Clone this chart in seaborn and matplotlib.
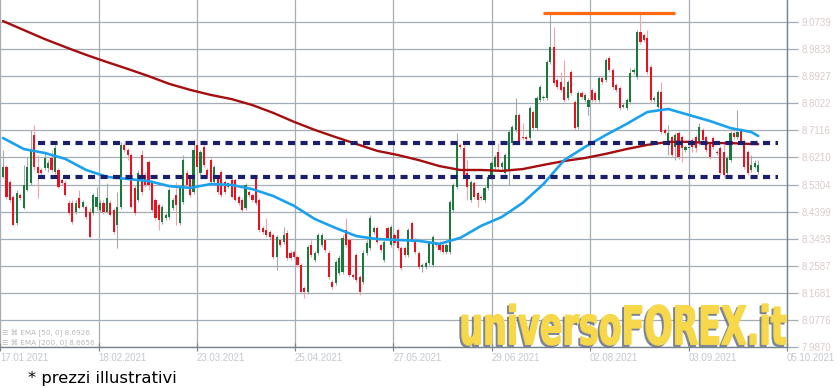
import numpy as np
import pandas as pd
import seaborn as sns
import matplotlib
matplotlib.use("Agg")
import matplotlib.pyplot as plt
from matplotlib.textpath import TextPath
from matplotlib.font_manager import FontProperties
from matplotlib.patches import PathPatch
from matplotlib.transforms import Affine2D, IdentityTransform

# ---------------- data ----------------
opens = [8.556, 8.589, 8.539, 8.489, 8.402, 8.495, 8.452, 8.512, 8.535, 8.696,
         8.589, 8.579, 8.586, 8.586, 8.619, 8.572, 8.579, 8.546, 8.535, 8.469,
         8.469, 8.438, 8.485, 8.455, 8.455, 8.438, 8.435, 8.455, 8.445, 8.469,
         8.438, 8.469, 8.445, 8.395, 8.455, 8.663, 8.646, 8.629, 8.519, 8.479,
         8.629, 8.562, 8.606, 8.535, 8.479,
         8.462, 8.405, 8.418, 8.422, 8.452,
         8.495, 8.402, 8.472, 8.569, 8.552, 8.505, 8.663, 8.569, 8.656, 8.579,
         8.612, 8.539, 8.556, 8.572, 8.539, 8.522, 8.546, 8.546, 8.489, 8.479,
         8.452, 8.505, 8.495, 8.552, 8.479, 8.385, 8.378, 8.372, 8.362, 8.288,
         8.345, 8.338, 8.368, 8.301, 8.305, 8.288, 8.261, 8.184, 8.171,
         8.328, 8.278, 8.301, 8.328, 8.345, 8.301, 8.205, 8.201, 8.235, 8.238, 8.378,
         8.345, 8.228, 8.295, 8.221, 8.205, 8.301, 8.318, 8.372, 8.385, 8.328,
         8.278, 8.385, 8.328, 8.362, 8.378, 8.318, 8.318, 8.295, 8.402, 8.345,
         8.301, 8.255, 8.255, 8.268, 8.261, 8.335, 8.335, 8.328, 8.305, 8.305,
         8.445, 8.522, 8.663, 8.653,
         8.569, 8.479, 8.535, 8.502, 8.489, 8.479,
         8.519, 8.556, 8.589, 8.639, 8.589, 8.569, 8.579, 8.669, 8.713, 8.763,
         8.689, 8.689, 8.686, 8.773, 8.719, 8.813, 8.820, 8.820, 8.940, 8.990,
         8.880, 8.873, 8.857, 8.820, 8.907, 8.806, 8.723, 8.837, 8.813, 8.790,
         8.847, 8.837, 8.813, 8.887, 8.880, 8.954, 8.913,
         8.863, 8.853, 8.790, 8.786, 8.806, 8.907, 8.890, 9.041, 9.030, 9.020, 8.923, 8.813, 8.790,
         8.840, 8.713, 8.673, 8.689, 8.656, 8.703, 8.689, 8.646, 8.653, 8.679,
         8.689, 8.669, 8.713, 8.689, 8.669, 8.686, 8.639, 8.653, 8.639, 8.569,
         8.612, 8.703, 8.689, 8.713, 8.673, 8.639, 8.579, 8.589, 8.572]

highs = [8.646, 8.596, 8.546, 8.495, 8.512, 8.502, 8.596, 8.622, 8.713, 8.729,
         8.629, 8.586, 8.639, 8.612, 8.646, 8.663, 8.586, 8.552, 8.546, 8.479,
         8.479, 8.479, 8.512, 8.479, 8.462, 8.452, 8.502, 8.522, 8.479, 8.479,
         8.535, 8.479, 8.452, 8.505, 8.673, 8.669, 8.653, 8.636, 8.529, 8.579,
         8.646, 8.572, 8.612, 8.546, 8.485,
         8.469, 8.462, 8.435, 8.519, 8.485,
         8.539, 8.529, 8.629, 8.579, 8.562, 8.679, 8.679, 8.646, 8.663, 8.586,
         8.619, 8.596, 8.562, 8.579, 8.546, 8.539, 8.552, 8.552, 8.495, 8.485,
         8.535, 8.512, 8.502, 8.562, 8.485, 8.392, 8.418, 8.378, 8.368, 8.362,
         8.352, 8.388, 8.378, 8.311, 8.311, 8.295, 8.268, 8.191, 8.328,
         8.345, 8.308, 8.368, 8.368, 8.352, 8.311, 8.211, 8.278, 8.295, 8.362, 8.418,
         8.352, 8.235, 8.301, 8.228, 8.311, 8.345, 8.429, 8.392, 8.392, 8.335,
         8.345, 8.392, 8.395, 8.368, 8.385, 8.325, 8.325, 8.385, 8.408, 8.352,
         8.308, 8.268, 8.275, 8.342, 8.362, 8.342, 8.342, 8.335, 8.335, 8.479,
         8.535, 8.703, 8.669, 8.663,
         8.612, 8.546, 8.542, 8.509, 8.495, 8.525,
         8.562, 8.609, 8.629, 8.669, 8.609, 8.636, 8.713, 8.729, 8.820, 8.770,
         8.736, 8.696, 8.793, 8.780, 8.826, 8.863, 8.830, 8.947, 9.104, 9.057,
         8.887, 8.907, 8.947, 8.880, 8.913, 8.813, 8.843, 8.843, 8.837, 8.820,
         8.853, 8.843, 8.893, 8.893, 8.954, 8.960, 8.920,
         8.870, 8.860, 8.803, 8.820, 8.920, 8.920, 9.047, 9.104, 9.037, 9.047, 8.930, 8.826, 8.847,
         8.873, 8.719, 8.729, 8.696, 8.703, 8.709, 8.696, 8.663, 8.663, 8.686,
         8.696, 8.736, 8.719, 8.696, 8.676, 8.693, 8.646, 8.659, 8.669, 8.626,
         8.709, 8.709, 8.780, 8.719, 8.679, 8.646, 8.629, 8.612, 8.612]

lows = [8.552, 8.482, 8.472, 8.392, 8.395, 8.479, 8.449, 8.509, 8.529, 8.579,
        8.485, 8.559, 8.579, 8.572, 8.572, 8.566, 8.519, 8.529, 8.492, 8.429,
        8.398, 8.432, 8.449, 8.452, 8.415, 8.352, 8.429, 8.445, 8.438, 8.432,
        8.435, 8.425, 8.365, 8.318, 8.449, 8.639, 8.612, 8.452, 8.429, 8.472,
        8.495, 8.522, 8.512, 8.438, 8.412,
        8.378, 8.398, 8.412, 8.415, 8.445,
        8.395, 8.395, 8.465, 8.522, 8.489, 8.499, 8.579, 8.562, 8.589, 8.556,
        8.532, 8.532, 8.499, 8.489, 8.499, 8.519, 8.485, 8.475, 8.462, 8.438,
        8.445, 8.489, 8.472, 8.462, 8.372, 8.365, 8.355, 8.348, 8.281, 8.245,
        8.322, 8.332, 8.278, 8.278, 8.281, 8.255, 8.164, 8.151, 8.164,
        8.288, 8.271, 8.295, 8.322, 8.305, 8.215, 8.181, 8.194, 8.228, 8.231, 8.322,
        8.221, 8.215, 8.205, 8.161, 8.198, 8.295, 8.311, 8.365, 8.332, 8.305,
        8.271, 8.345, 8.322, 8.328, 8.311, 8.245, 8.288, 8.288, 8.338, 8.298,
        8.248, 8.238, 8.248, 8.261, 8.255, 8.322, 8.305, 8.298, 8.298, 8.298,
        8.438, 8.515, 8.649, 8.556,
        8.479, 8.472, 8.482, 8.455, 8.479, 8.472,
        8.512, 8.549, 8.582, 8.582, 8.582, 8.562, 8.529, 8.663, 8.706, 8.666,
        8.679, 8.676, 8.679, 8.713, 8.713, 8.806, 8.813, 8.813, 8.933, 8.863,
        8.850, 8.840, 8.806, 8.813, 8.830, 8.713, 8.716, 8.816, 8.806, 8.763,
        8.806, 8.806, 8.806, 8.867, 8.873, 8.907, 8.850,
        8.840, 8.780, 8.786, 8.780, 8.800, 8.900, 8.883, 9.000, 9.007, 8.900, 8.806, 8.806, 8.786,
        8.699, 8.696, 8.629, 8.622, 8.612, 8.616, 8.606, 8.639, 8.646, 8.639,
        8.639, 8.663, 8.673, 8.639, 8.616, 8.649, 8.629, 8.562, 8.556, 8.562,
        8.606, 8.683, 8.683, 8.666, 8.582, 8.562, 8.572, 8.586, 8.566]

closes = [8.589, 8.489, 8.479, 8.395, 8.502, 8.485, 8.529, 8.589, 8.646, 8.589,
          8.569, 8.569, 8.619, 8.602, 8.579, 8.653, 8.522, 8.535, 8.495, 8.435,
          8.405, 8.469, 8.452, 8.472, 8.422, 8.355, 8.495, 8.489, 8.469, 8.438,
          8.485, 8.429, 8.372, 8.455, 8.663, 8.646, 8.629, 8.455, 8.435, 8.569,
          8.505, 8.529, 8.529, 8.445, 8.418,
          8.412, 8.455, 8.429, 8.512, 8.479,
          8.462, 8.522, 8.612, 8.529, 8.495, 8.646, 8.589, 8.639, 8.596, 8.562,
          8.539, 8.589, 8.505, 8.495, 8.505, 8.535, 8.489, 8.479, 8.469, 8.445,
          8.529, 8.495, 8.479, 8.469, 8.378, 8.372, 8.362, 8.355, 8.288, 8.355,
          8.328, 8.362, 8.285, 8.285, 8.288, 8.261, 8.171, 8.171, 8.322,
          8.295, 8.301, 8.362, 8.362, 8.311, 8.221, 8.188, 8.271, 8.285, 8.352, 8.328,
          8.228, 8.221, 8.211, 8.171, 8.301, 8.335, 8.418, 8.385, 8.338, 8.311,
          8.338, 8.352, 8.388, 8.335, 8.318, 8.251, 8.295, 8.378, 8.345, 8.305,
          8.255, 8.261, 8.268, 8.335, 8.355, 8.328, 8.311, 8.305, 8.328, 8.472,
          8.529, 8.669, 8.656, 8.562,
          8.522, 8.539, 8.489, 8.479, 8.485, 8.519,
          8.556, 8.602, 8.622, 8.589, 8.602, 8.629, 8.706, 8.723, 8.763, 8.673,
          8.686, 8.683, 8.786, 8.719, 8.820, 8.857, 8.823, 8.940, 8.990, 8.870,
          8.857, 8.847, 8.813, 8.873, 8.837, 8.719, 8.837, 8.823, 8.830, 8.813,
          8.813, 8.813, 8.887, 8.873, 8.947, 8.913, 8.857,
          8.847, 8.786, 8.796, 8.813, 8.903, 8.913, 9.041, 9.007, 9.014, 8.907, 8.813, 8.820, 8.840,
          8.706, 8.703, 8.703, 8.629, 8.696, 8.622, 8.653, 8.656, 8.656, 8.656,
          8.653, 8.723, 8.679, 8.646, 8.622, 8.656, 8.636, 8.569, 8.562, 8.619,
          8.703, 8.689, 8.706, 8.673, 8.589, 8.569, 8.596, 8.602, 8.596]

# EMA values read at every 6th candle (plus the last one)
ema_idx = [0, 6, 12, 18, 24, 30, 36, 42, 48, 54, 60, 66, 72, 78, 84, 90, 96, 102,
           108, 114, 120, 126, 132, 138, 144, 150, 156, 162, 168, 174, 180, 186,
           192, 198, 204, 210, 216, 218]
ema50 = [8.686, 8.649, 8.636, 8.616, 8.579, 8.556, 8.549, 8.542, 8.525, 8.519,
         8.532, 8.529, 8.515, 8.492, 8.459, 8.415, 8.385, 8.358, 8.348, 8.345,
         8.342, 8.332, 8.352, 8.392, 8.422, 8.469, 8.532, 8.612, 8.656, 8.696,
         8.733, 8.773, 8.783, 8.763, 8.743, 8.719, 8.706, 8.6926]
ema200 = [9.077, 9.047, 9.017, 8.990, 8.964, 8.940, 8.917, 8.893, 8.867, 8.847,
          8.830, 8.816, 8.796, 8.770, 8.740, 8.713, 8.689, 8.666, 8.643, 8.629,
          8.612, 8.592, 8.579, 8.579, 8.576, 8.582, 8.596, 8.609, 8.619, 8.633,
          8.649, 8.663, 8.673, 8.673, 8.669, 8.669, 8.666, 8.6656]

resistance_level = 8.669
support_level = 8.556
top_level = 9.104
top_from, top_to = 156.0, 194.0        # candle span of the orange top line
levels_from, levels_to = 10.1, 223.7   # candle span of the dashed levels

ytick_vals = [7.9870, 8.0776, 8.1681, 8.2587, 8.3493, 8.4399, 8.5304,
              8.6210, 8.7116, 8.8022, 8.8927, 8.9833, 9.0739]
xtick_labels = ["17.01.2021", "18.02.2021", "23.03.2021", "25.04.2021", "27.05.2021",
                "29.06.2021", "02.08.2021", "03.09.2021", "05.10.2021"]
xtick_pos = [-0.87, 27.6, 55.9, 84.2, 112.6, 141.1, 169.4, 198.0, 226.3]

legend_lines = ["EMA [50, 0] 8.6926", "EMA [200, 0] 8.6656"]

# ---------------- styling ----------------
sns.set_theme(style="white")
plt.rcParams['font.family'] = ['Liberation Sans', 'DejaVu Sans']

W, H = 840, 388
fig = plt.figure(figsize=(W / 100, H / 100), dpi=100)
fig.patch.set_facecolor("white")
ax = fig.add_axes([0, 41 / H, 787 / W, 347 / H])
ax.set_facecolor("white")

df = pd.DataFrame({"o": opens, "h": highs, "l": lows, "c": closes})
df["i"] = np.arange(len(df))
df["up"] = df["c"] >= df["o"]

GREEN, RED = "#1b7a3b", "#e8111f"
WICK_G, WICK_R = "#a3abab", "#f4a3ab"

ax.vlines(df["i"], df["l"], df["h"],
          colors=np.where(df["up"], WICK_G, WICK_R), linewidth=0.8, zorder=2)
body_h = np.maximum((df["c"] - df["o"]).abs(), 0.0034)
body_b = np.minimum(df["o"], df["c"])
ax.bar(df["i"], body_h, bottom=body_b, width=0.62,
       color=np.where(df["up"], GREEN, RED), linewidth=0, zorder=3)

ema_df = pd.DataFrame({"i": ema_idx, "ema50": ema50, "ema200": ema200})
sns.lineplot(data=ema_df, x="i", y="ema200", ax=ax, color="#a50e0e",
             linewidth=1.7, legend=False, zorder=4)
sns.lineplot(data=ema_df, x="i", y="ema50", ax=ax, color="#1ba2ee",
             linewidth=1.9, legend=False, zorder=4)

ax.hlines([resistance_level, support_level], levels_from, levels_to,
          colors="#1b1f6b", linewidth=3.0, linestyles=(0, (1.7, 1.3)), zorder=5)
ax.hlines(top_level, top_from, top_to, colors="#ff6a12", linewidth=2.3, zorder=5)

ax.set_xlim(-0.87, 226.3)
ax.set_ylim(7.9870, 9.1475)

ax.set_yticks(ytick_vals)
ax.set_yticklabels([f"{v:.4f}" for v in ytick_vals])
ax.yaxis.tick_right()
ax.set_xticks(xtick_pos)
ax.set_xticklabels(xtick_labels)
for lab in ax.get_xticklabels():
    lab.set_horizontalalignment("left")
ax.set_xlabel("")
ax.set_ylabel("")

grid_c = "#a4adb4"
ax.grid(True, color=grid_c, linewidth=0.9, zorder=0)
ax.set_axisbelow(True)
ax.tick_params(axis="y", which="both", right=True, left=False, length=8, width=0.9,
               color=grid_c, pad=2.5, labelsize=7, labelcolor="#dccaca")
ax.tick_params(axis="x", which="both", bottom=True, direction="inout", length=6,
               width=0.9, color="#7d8891", pad=1.5, labelsize=7, labelcolor="#c4c9cf")
for s in ["top", "left"]:
    ax.spines[s].set_visible(False)
for s in ["right", "bottom"]:
    ax.spines[s].set_color("#76828c")
    ax.spines[s].set_linewidth(1.0)

# legend lines inside the chart, bottom-left
for k, txt in enumerate(legend_lines):
    fig.text(2 / W, 1 - (333 + 10 * k) / H, "☰ ⌘ " + txt, fontsize=5.2,
             color="#b9b9b9", va="center", ha="left",
             family=["DejaVu Sans"])

# watermark
fp = FontProperties(family="DejaVu Sans", weight="bold")
tp = TextPath((0, 0), "universoFOREX.it", prop=fp, size=40)
ext = tp.get_extents()
x0, x1 = 462, 786
y0, y1 = H - 345, H - 304
tr = Affine2D().translate(-ext.x0, -ext.y0).scale((x1 - x0) / ext.width,
                                                   (y1 - y0) / ext.height).translate(x0, y0)
wpath = tr.transform_path(tp)
shadow = PathPatch(Affine2D().translate(-2.0, -2.0).transform_path(wpath),
                   facecolor="#6c7484", edgecolor="#6c7484", linewidth=1.0,
                   alpha=0.8, transform=IdentityTransform(), zorder=10)
main = PathPatch(wpath, facecolor="#f6d84a", edgecolor="#f6d84a", linewidth=1.0,
                 transform=IdentityTransform(), zorder=11)
fig.add_artist(shadow)
fig.add_artist(main)

fig.text(28 / W, 1 - 379 / H, "* prezzi illustrativi", fontsize=11.8,
         color="black", va="center", ha="left", family=["DejaVu Sans"])

fig.savefig("out.png", dpi=100)
